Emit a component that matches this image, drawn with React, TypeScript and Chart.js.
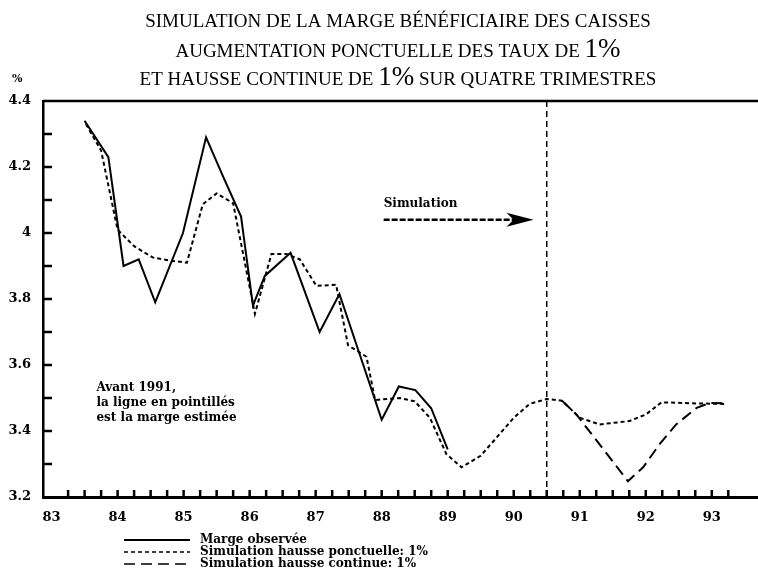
import React, { useEffect, useRef } from "react";
import { Chart, registerables } from "chart.js";

Chart.register(...registerables);

// ---- Data ----
const OBS_X = [83.5, 83.86, 84.09, 84.32, 84.57, 84.99, 85.34, 85.6, 85.87, 86.05, 86.23, 86.62, 87.06, 87.36, 88.0, 88.26, 88.51, 88.75, 89.0];
const OBS_Y = [4.34, 4.23, 3.9, 3.92, 3.79, 4.0, 4.29, 4.17, 4.05, 3.78, 3.87, 3.94, 3.7, 3.815, 3.434, 3.535, 3.524, 3.469, 3.344];

const PONCT_X = [83.52, 83.75, 84.0, 84.25, 84.53, 84.81, 85.05, 85.29, 85.5, 85.75, 86.08, 86.33, 86.56, 86.76, 87.01, 87.31, 87.49, 87.77, 87.9, 88.27, 88.5, 88.73, 88.98, 89.21, 89.5, 89.74, 90.0, 90.24, 90.5, 90.73, 91.0, 91.3, 91.75, 92.0, 92.24, 92.67, 93.22];
const PONCT_Y = [4.33, 4.25, 4.01, 3.96, 3.926, 3.916, 3.91, 4.087, 4.12, 4.09, 3.755, 3.936, 3.936, 3.92, 3.84, 3.843, 3.66, 3.625, 3.494, 3.5, 3.49, 3.44, 3.33, 3.29, 3.325, 3.38, 3.44, 3.482, 3.497, 3.492, 3.44, 3.42, 3.43, 3.45, 3.487, 3.484, 3.482];

const CONT_X = [90.73, 90.95, 91.73, 91.96, 92.21, 92.46, 92.77, 92.97, 93.22];
const CONT_Y = [3.492, 3.45, 3.248, 3.29, 3.36, 3.42, 3.47, 3.485, 3.484];

const YEAR_TICKS = [83, 84, 85, 86, 87, 88, 89, 90, 91, 92, 93];
const Y_TICKS = [3.2, 3.4, 3.6, 3.8, 4.0, 4.2, 4.4];

const SERIES_LABELS = ["Marge observée", "Simulation hausse ponctuelle: 1%", "Simulation hausse continue: 1%"];
const TITLE_LINES: [string, boolean][][] = [
  [["SIMULATION DE LA MARGE BÉNÉFICIAIRE DES CAISSES", false]],
  [["AUGMENTATION PONCTUELLE DES TAUX DE ", false], ["1%", true]],
  [["ET HAUSSE CONTINUE DE ", false], ["1%", true], [" SUR QUATRE TRIMESTRES", false]],
];
const NOTE_LINES = ["Avant 1991,", "la ligne en pointillés", "est la marge estimée"];
const SIM_LABEL = "Simulation";
const SIM_START = 90.5;

const DASHES = [[], [4, 3], [11, 6]];

const BOLD_SMALL = "bold 12px 'DejaVu Serif'";
const TICK_FONT = { family: "'DejaVu Serif'", size: 13, weight: "bold" as const };

const pts = (xs: number[], ys: number[]) => xs.map((x, i) => ({ x, y: ys[i] }));

const decor = {
  id: "decor",
  afterDatasetsDraw(chart: any) {
    const { ctx, chartArea: a, scales } = chart;
    const xs = scales.x, ys = scales.y;
    ctx.save();
    ctx.strokeStyle = "#000";
    ctx.fillStyle = "#000";
    // top border
    ctx.lineWidth = 2.5;
    ctx.beginPath();
    ctx.moveTo(a.left, a.top);
    ctx.lineTo(a.right, a.top);
    ctx.stroke();
    // x quarter ticks (inward)
    ctx.lineWidth = 2.5;
    for (let k = 1; k <= 41; k++) {
      const px = xs.getPixelForValue(83 + k * 0.25);
      if (px > a.right) break;
      ctx.beginPath();
      ctx.moveTo(px, a.bottom);
      ctx.lineTo(px, a.bottom - 7);
      ctx.stroke();
    }
    // y minor ticks (inward)
    for (let k = 1; k <= 11; k++) {
      const py = ys.getPixelForValue(3.2 + k * 0.1);
      ctx.beginPath();
      ctx.moveTo(a.left, py);
      ctx.lineTo(a.left + 9, py);
      ctx.stroke();
    }
    // vertical dashed line at start of simulation
    const vx = xs.getPixelForValue(SIM_START);
    ctx.lineWidth = 1.5;
    ctx.setLineDash([6, 4]);
    ctx.beginPath();
    ctx.moveTo(vx, a.top);
    ctx.lineTo(vx, a.bottom);
    ctx.stroke();
    // arrow
    const ax0 = xs.getPixelForValue(88.03);
    const ax1 = xs.getPixelForValue(90.3);
    const ay = ys.getPixelForValue(4.04);
    ctx.lineWidth = 2.5;
    ctx.setLineDash([6, 2]);
    ctx.beginPath();
    ctx.moveTo(ax0, ay);
    ctx.lineTo(ax1 - 16, ay);
    ctx.stroke();
    ctx.setLineDash([]);
    ctx.beginPath();
    ctx.moveTo(ax1, ay);
    ctx.lineTo(ax1 - 27, ay - 7);
    ctx.lineTo(ax1 - 20, ay);
    ctx.lineTo(ax1 - 27, ay + 7);
    ctx.closePath();
    ctx.fill();
    ctx.font = BOLD_SMALL;
    ctx.textAlign = "left";
    ctx.textBaseline = "middle";
    ctx.fillText(SIM_LABEL, ax0, ys.getPixelForValue(4.087));
    // note
    const nx = xs.getPixelForValue(83.68);
    const ny = ys.getPixelForValue(3.53);
    NOTE_LINES.forEach((t, i) => ctx.fillText(t, nx, ny + i * 15));
    ctx.restore();
  },
  afterDraw(chart: any) {
    const { ctx } = chart;
    ctx.save();
    ctx.fillStyle = "#000";
    ctx.strokeStyle = "#000";
    // title
    const cx = 398;
    const baselines = [27, 57, 85];
    const small = "19px 'Liberation Serif'";
    const big = "27px 'Liberation Serif'";
    ctx.textBaseline = "alphabetic";
    ctx.textAlign = "left";
    TITLE_LINES.forEach((segs, li) => {
      let total = 0;
      segs.forEach(([t, b]) => { ctx.font = b ? big : small; total += ctx.measureText(t).width; });
      let x = cx - total / 2;
      segs.forEach(([t, b]) => {
        ctx.font = b ? big : small;
        ctx.fillText(t, x, baselines[li]);
        x += ctx.measureText(t).width;
      });
    });
    // % unit
    ctx.font = "bold 11px 'DejaVu Serif'";
    ctx.textBaseline = "middle";
    ctx.fillText("%", 12, 79);
    // legend
    const rows = [540, 552, 564];
    SERIES_LABELS.forEach((lab, i) => {
      ctx.lineWidth = i === 0 ? 2 : 1.6;
      ctx.setLineDash(DASHES[i]);
      ctx.beginPath();
      ctx.moveTo(124, rows[i]);
      ctx.lineTo(190, rows[i]);
      ctx.stroke();
      ctx.setLineDash([]);
      ctx.font = BOLD_SMALL;
      ctx.fillText(lab, 200, rows[i]);
    });
    ctx.restore();
  },
};

export default function App() {
  const ref = useRef<HTMLCanvasElement | null>(null);
  useEffect(() => {
    document.body.style.margin = "0";
    const canvas = ref.current!;
    const chart = new Chart(canvas, {
      type: "line",
      data: {
        datasets: [
          { label: SERIES_LABELS[0], data: pts(OBS_X, OBS_Y), borderColor: "#000", borderWidth: 2, pointRadius: 0, tension: 0, fill: false },
          { label: SERIES_LABELS[1], data: pts(PONCT_X, PONCT_Y), borderColor: "#000", borderWidth: 2, borderDash: DASHES[1], pointRadius: 0, tension: 0, fill: false },
          { label: SERIES_LABELS[2], data: pts(CONT_X, CONT_Y), borderColor: "#000", borderWidth: 2, borderDash: DASHES[2], pointRadius: 0, tension: 0, fill: false },
        ],
      },
      options: {
        responsive: false,
        animation: false,
        devicePixelRatio: 1,
        layout: { padding: { top: 101, right: 0, left: 0, bottom: 0 } },
        plugins: { legend: { display: false }, tooltip: { enabled: false }, title: { display: false } },
        scales: {
          x: {
            type: "linear",
            min: 82.87,
            max: 93.7,
            afterBuildTicks: (s: any) => { s.ticks = YEAR_TICKS.map((v) => ({ value: v })); },
            afterFit: (s: any) => { s.height = 80; },
            grid: { display: false, drawTicks: false },
            border: { display: true, color: "#000", width: 3 },
            ticks: { padding: 13, color: "#000", font: TICK_FONT, autoSkip: false, maxRotation: 0, callback: (v: any) => String(v) },
          },
          y: {
            type: "linear",
            min: 3.2,
            max: 4.4,
            afterBuildTicks: (s: any) => { s.ticks = Y_TICKS.map((v) => ({ value: v })); },
            afterFit: (s: any) => { s.width = 43; },
            grid: { display: false, drawTicks: false },
            border: { display: true, color: "#000", width: 2.5 },
            ticks: { padding: 12, color: "#000", font: TICK_FONT, autoSkip: false, callback: (v: any) => (Math.abs(v - 4) < 1e-9 ? "4" : Number(v).toFixed(1)) },
          },
        },
      },
      plugins: [decor],
    });
    return () => chart.destroy();
  }, []);
  return <canvas ref={ref} width={758} height={577} style={{ display: "block" }} />;
}
